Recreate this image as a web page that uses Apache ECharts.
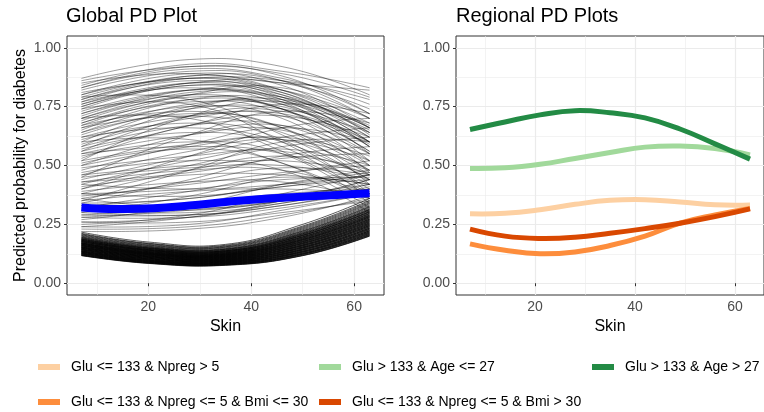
<!DOCTYPE html>
<html>
<head>
<meta charset="utf-8">
<script src="https://cdn.jsdelivr.net/npm/echarts@6/dist/echarts.min.js"></script>
<style>
  html, body { margin: 0; padding: 0; background: #fff; }
  #chart { width: 764px; height: 412px; }
</style>
</head>
<body>
<div id="chart"></div>
<script>
let upperSkin = [7, 28, 46, 63]
let lowerSkin = [7, 20, 35, 50, 63]

// individual conditional expectation curves, upper spread
let iceUpper = [
  [0.87, 0.95, 0.92, 0.80], [0.84, 0.93, 0.90, 0.83], [0.83, 0.92, 0.88, 0.72], [0.82, 0.90, 0.86, 0.70],
  [0.80, 0.89, 0.84, 0.66], [0.79, 0.88, 0.85, 0.82], [0.78, 0.86, 0.80, 0.62], [0.77, 0.87, 0.82, 0.68],
  [0.76, 0.85, 0.79, 0.60], [0.75, 0.85, 0.82, 0.70], [0.74, 0.84, 0.78, 0.58], [0.73, 0.82, 0.77, 0.55],
  [0.72, 0.82, 0.79, 0.65], [0.71, 0.82, 0.81, 0.63], [0.70, 0.79, 0.74, 0.52], [0.69, 0.80, 0.78, 0.60],
  [0.68, 0.77, 0.72, 0.50], [0.67, 0.78, 0.74, 0.56], [0.66, 0.75, 0.70, 0.47], [0.65, 0.78, 0.77, 0.62],
  [0.64, 0.72, 0.66, 0.42], [0.63, 0.74, 0.74, 0.64], [0.62, 0.71, 0.71, 0.55], [0.61, 0.68, 0.61, 0.38],
  [0.60, 0.75, 0.76, 0.58], [0.58, 0.67, 0.67, 0.52], [0.57, 0.64, 0.58, 0.36], [0.56, 0.71, 0.73, 0.60],
  [0.55, 0.63, 0.65, 0.50], [0.54, 0.60, 0.55, 0.34], [0.53, 0.67, 0.71, 0.62], [0.52, 0.59, 0.61, 0.48],
  [0.51, 0.57, 0.51, 0.32], [0.50, 0.63, 0.67, 0.55], [0.49, 0.54, 0.56, 0.46], [0.48, 0.59, 0.66, 0.60],
  [0.47, 0.52, 0.48, 0.30], [0.46, 0.56, 0.61, 0.52], [0.45, 0.49, 0.50, 0.44], [0.44, 0.54, 0.62, 0.66],
  [0.43, 0.48, 0.48, 0.38], [0.42, 0.52, 0.57, 0.50], [0.41, 0.46, 0.46, 0.42], [0.40, 0.50, 0.58, 0.62],
  [0.39, 0.43, 0.43, 0.36], [0.38, 0.48, 0.54, 0.48], [0.37, 0.42, 0.47, 0.50], [0.36, 0.43, 0.49, 0.46],
  [0.35, 0.39, 0.40, 0.38], [0.34, 0.44, 0.54, 0.58], [0.33, 0.36, 0.41, 0.44], [0.32, 0.39, 0.45, 0.42],
  [0.31, 0.34, 0.38, 0.40], [0.30, 0.37, 0.46, 0.52], [0.29, 0.32, 0.37, 0.42], [0.28, 0.31, 0.35, 0.40],
  [0.27, 0.33, 0.42, 0.48], [0.26, 0.28, 0.34, 0.40], [0.25, 0.29, 0.38, 0.46], [0.24, 0.25, 0.31, 0.38],
  [0.79, 0.78, 0.63, 0.44], [0.74, 0.76, 0.60, 0.40], [0.70, 0.70, 0.56, 0.38], [0.66, 0.71, 0.64, 0.46],
  [0.60, 0.61, 0.51, 0.36], [0.58, 0.74, 0.78, 0.66], [0.52, 0.71, 0.77, 0.64], [0.45, 0.63, 0.73, 0.68],
  [0.81, 0.87, 0.86, 0.78], [0.76, 0.85, 0.85, 0.74], [0.85, 0.89, 0.82, 0.66], [0.68, 0.80, 0.83, 0.70],
  [0.56, 0.67, 0.76, 0.72], [0.40, 0.54, 0.66, 0.70], [0.35, 0.48, 0.60, 0.60], [0.23, 0.24, 0.29, 0.36],
  [0.22, 0.23, 0.28, 0.37], [0.24, 0.28, 0.35, 0.44], [0.28, 0.28, 0.32, 0.38], [0.30, 0.29, 0.33, 0.40],
  [0.33, 0.31, 0.35, 0.42], [0.36, 0.32, 0.35, 0.44], [0.38, 0.37, 0.41, 0.46], [0.42, 0.40, 0.42, 0.46],
  [0.26, 0.26, 0.30, 0.35], [0.86, 0.92, 0.89, 0.79], [0.83, 0.91, 0.87, 0.76], [0.80, 0.87, 0.81, 0.64],
  [0.78, 0.88, 0.86, 0.72], [0.77, 0.83, 0.76, 0.58], [0.75, 0.84, 0.80, 0.66], [0.72, 0.80, 0.74, 0.56],
  [0.70, 0.81, 0.79, 0.67], [0.67, 0.73, 0.66, 0.48], [0.64, 0.76, 0.75, 0.60], [0.62, 0.66, 0.60, 0.44],
  [0.59, 0.70, 0.72, 0.59], [0.55, 0.58, 0.55, 0.42], [0.50, 0.58, 0.62, 0.54], [0.46, 0.50, 0.52, 0.47],
  [0.43, 0.47, 0.53, 0.55], [0.38, 0.40, 0.44, 0.45], [0.34, 0.36, 0.42, 0.47], [0.31, 0.30, 0.34, 0.41],
  [0.29, 0.29, 0.33, 0.39]
]

// ICE curves of the dense low band
let iceLower = [
  [0.117, 0.084, 0.076, 0.117, 0.200], [0.119, 0.086, 0.078, 0.119, 0.203], [0.120, 0.087, 0.079, 0.122, 0.205],
  [0.122, 0.089, 0.081, 0.124, 0.208], [0.124, 0.090, 0.082, 0.126, 0.211], [0.126, 0.092, 0.084, 0.128, 0.214],
  [0.127, 0.093, 0.085, 0.131, 0.216], [0.129, 0.095, 0.087, 0.133, 0.219], [0.131, 0.096, 0.088, 0.135, 0.222],
  [0.132, 0.098, 0.090, 0.137, 0.224], [0.134, 0.099, 0.091, 0.140, 0.227], [0.136, 0.101, 0.093, 0.142, 0.230],
  [0.137, 0.103, 0.094, 0.144, 0.233], [0.139, 0.104, 0.096, 0.146, 0.235], [0.141, 0.106, 0.097, 0.149, 0.238],
  [0.143, 0.107, 0.099, 0.151, 0.241], [0.144, 0.109, 0.100, 0.153, 0.244], [0.146, 0.110, 0.102, 0.155, 0.246],
  [0.148, 0.112, 0.103, 0.158, 0.249], [0.149, 0.113, 0.105, 0.160, 0.252], [0.151, 0.115, 0.106, 0.162, 0.254],
  [0.153, 0.116, 0.108, 0.164, 0.257], [0.154, 0.118, 0.109, 0.167, 0.260], [0.156, 0.120, 0.111, 0.169, 0.263],
  [0.158, 0.121, 0.112, 0.171, 0.265], [0.160, 0.123, 0.114, 0.174, 0.268], [0.161, 0.124, 0.115, 0.176, 0.271],
  [0.163, 0.126, 0.117, 0.178, 0.273], [0.165, 0.127, 0.118, 0.180, 0.276], [0.166, 0.129, 0.120, 0.183, 0.279],
  [0.168, 0.130, 0.121, 0.185, 0.282], [0.170, 0.132, 0.123, 0.187, 0.284], [0.171, 0.134, 0.124, 0.189, 0.287],
  [0.173, 0.135, 0.126, 0.192, 0.290], [0.175, 0.137, 0.127, 0.194, 0.292], [0.177, 0.138, 0.129, 0.196, 0.295],
  [0.178, 0.140, 0.130, 0.198, 0.298], [0.180, 0.141, 0.132, 0.201, 0.301], [0.182, 0.143, 0.133, 0.203, 0.303],
  [0.183, 0.144, 0.135, 0.205, 0.306], [0.185, 0.146, 0.137, 0.207, 0.309], [0.187, 0.148, 0.138, 0.210, 0.312],
  [0.189, 0.150, 0.140, 0.213, 0.315], [0.191, 0.151, 0.142, 0.215, 0.318], [0.193, 0.153, 0.144, 0.218, 0.322],
  [0.195, 0.155, 0.145, 0.221, 0.325], [0.197, 0.157, 0.147, 0.223, 0.328], [0.200, 0.160, 0.150, 0.227, 0.333],
  [0.203, 0.162, 0.153, 0.231, 0.338], [0.206, 0.165, 0.155, 0.235, 0.342], [0.209, 0.168, 0.158, 0.239, 0.347],
  [0.212, 0.170, 0.161, 0.243, 0.352], [0.217, 0.175, 0.165, 0.250, 0.360],
  [0.118, 0.085, 0.077, 0.118, 0.201], [0.121, 0.088, 0.080, 0.123, 0.207], [0.125, 0.091, 0.083, 0.127, 0.212],
  [0.128, 0.094, 0.086, 0.132, 0.218], [0.132, 0.097, 0.089, 0.136, 0.223], [0.135, 0.100, 0.092, 0.141, 0.229],
  [0.138, 0.103, 0.095, 0.145, 0.234], [0.142, 0.106, 0.098, 0.150, 0.240], [0.145, 0.110, 0.101, 0.154, 0.245],
  [0.149, 0.113, 0.104, 0.159, 0.250], [0.152, 0.116, 0.107, 0.163, 0.256], [0.155, 0.119, 0.110, 0.168, 0.261],
  [0.159, 0.122, 0.113, 0.172, 0.267], [0.162, 0.125, 0.116, 0.177, 0.272], [0.166, 0.128, 0.119, 0.182, 0.278],
  [0.169, 0.131, 0.122, 0.186, 0.283], [0.172, 0.134, 0.125, 0.191, 0.288], [0.177, 0.139, 0.129, 0.197, 0.296],
  [0.182, 0.143, 0.134, 0.203, 0.304], [0.187, 0.148, 0.138, 0.210, 0.312]
]

// partial dependence curves
let pdSkin = [7, 14, 21, 28, 35, 42, 49, 56, 63]
let pdGlobal = [0.322, 0.315, 0.318, 0.330, 0.345, 0.358, 0.366, 0.374, 0.382]

let regionNames = [
  'Glu <= 133 & Npreg > 5',
  'Glu > 133 & Age <= 27',
  'Glu > 133 & Age > 27',
  'Glu <= 133 & Npreg <= 5 & Bmi <= 30',
  'Glu <= 133 & Npreg <= 5 & Bmi > 30'
]
let regionColors = ['#FDD0A2', '#A1D99B', '#238B45', '#FD8D3C', '#D94801']
let regionValues = [
  [0.295, 0.297, 0.312, 0.335, 0.352, 0.355, 0.345, 0.333, 0.332],
  [0.487, 0.490, 0.505, 0.530, 0.555, 0.578, 0.583, 0.572, 0.545],
  [0.653, 0.685, 0.715, 0.733, 0.724, 0.702, 0.655, 0.592, 0.527],
  [0.167, 0.140, 0.125, 0.133, 0.160, 0.200, 0.255, 0.290, 0.318],
  [0.230, 0.200, 0.190, 0.195, 0.212, 0.232, 0.255, 0.283, 0.316]
]

let yTicks = [0, 0.25, 0.5, 0.75, 1]
let yMinor = [0.125, 0.375, 0.625, 0.875]
let xTicks = [20, 40, 60]
let xMinor = [10, 30, 50]

let labelStyle = {color: '#4D4D4D', fontSize: 14, fontFamily: 'Liberation Sans'}
let gridLine = {color: '#EBEBEB', width: 1.2}

function majorX(gridIndex, withName) {
  return {
    type: 'value', gridIndex: gridIndex, min: 4.2, max: 65.8,
    name: withName ? 'Skin' : '', nameLocation: 'middle', nameGap: 21,
    nameTextStyle: {color: '#000', fontSize: 16, fontFamily: 'Liberation Sans'},
    axisLine: {show: false},
    axisTick: {show: true, length: 3, customValues: xTicks, lineStyle: {color: '#333'}},
    axisLabel: Object.assign({customValues: xTicks, margin: 5}, labelStyle),
    splitLine: {show: true, lineStyle: gridLine}
  }
}
function minorX(gridIndex) {
  return {
    type: 'value', gridIndex: gridIndex, min: 4.2, max: 65.8, position: 'bottom',
    axisLine: {show: false}, axisLabel: {show: false},
    axisTick: {show: false, customValues: xMinor},
    splitLine: {show: true, lineStyle: {color: '#EBEBEB', width: 0.6}}
  }
}
function majorY(gridIndex, withName) {
  return {
    type: 'value', gridIndex: gridIndex, min: -0.05, max: 1.05,
    name: withName ? 'Predicted probability for diabetes' : '', nameLocation: 'middle', nameGap: 38,
    nameTextStyle: {color: '#000', fontSize: 16, fontFamily: 'Liberation Sans'},
    axisLine: {show: false},
    axisTick: {show: true, length: 3, customValues: yTicks, lineStyle: {color: '#333'}},
    axisLabel: Object.assign({customValues: yTicks, margin: 6, formatter: v => v.toFixed(2)}, labelStyle),
    splitLine: {show: true, lineStyle: gridLine}
  }
}
function minorY(gridIndex) {
  return {
    type: 'value', gridIndex: gridIndex, min: -0.05, max: 1.05, position: 'left',
    axisLine: {show: false}, axisLabel: {show: false},
    axisTick: {show: false, customValues: yMinor},
    splitLine: {show: true, lineStyle: {color: '#EBEBEB', width: 0.6}}
  }
}

// draws each row of `curves` as one smooth polyline through the axis scales
function curveSeries(name, axisIndex, skin, curves, color, width, z) {
  return {
    name: name, type: 'custom', xAxisIndex: axisIndex, yAxisIndex: axisIndex, z: z,
    silent: true, itemStyle: {color: color},
    data: curves.map((c, i) => [skin[0], c[0], i]),
    renderItem: function (params, api) {
      let c = curves[params.dataIndex]
      return {
        type: 'polyline',
        shape: {points: skin.map((x, j) => api.coord([x, c[j]])), smooth: 0.45},
        style: {stroke: color, lineWidth: width, fill: null}
      }
    }
  }
}

let series = [
  curveSeries('ice-upper', 0, upperSkin, iceUpper, 'rgba(0,0,0,0.38)', 1, 2),
  curveSeries('ice-lower', 0, lowerSkin, iceLower, 'rgba(0,0,0,0.65)', 1, 2),
  curveSeries('pd', 0, pdSkin, [pdGlobal], '#0000FF', 8, 5)
]
regionNames.forEach((name, k) => {
  series.push(curveSeries(name, 2, pdSkin, [regionValues[k]], regionColors[k], 5, 3))
})

// legend slots in reading order (two rows)
let legendPos = [[38, 360], [319, 360], [592, 360], [38, 395], [319, 395]]

let myChart = echarts.init(document.getElementById('chart'), null, {renderer: 'canvas'})

myChart.setOption({
  animation: false,
  backgroundColor: '#fff',
  title: [
    {text: 'Global PD Plot', left: 66, top: 6, padding: 0,
      textStyle: {fontSize: 20, fontWeight: 'normal', color: '#000', fontFamily: 'Liberation Sans'}},
    {text: 'Regional PD Plots', left: 456, top: 6, padding: 0,
      textStyle: {fontSize: 20, fontWeight: 'normal', color: '#000', fontFamily: 'Liberation Sans'}}
  ],
  grid: [
    {left: 67, right: 380, top: 36, bottom: 117, show: true, borderColor: '#333', borderWidth: 1, backgroundColor: 'transparent'},
    {left: 456, right: -9, top: 36, bottom: 117, show: true, borderColor: '#333', borderWidth: 1, backgroundColor: 'transparent'}
  ],
  xAxis: [majorX(0, true), minorX(0), majorX(1, true), minorX(1)],
  yAxis: [majorY(0, true), minorY(0), majorY(1, false), minorY(1)],
  legend: regionNames.map((name, k) => ({
    data: [name], left: legendPos[k][0], top: legendPos[k][1], padding: 0,
    icon: 'rect', itemWidth: 22, itemHeight: 6, selectedMode: false,
    itemStyle: {color: regionColors[k]},
    textStyle: {fontSize: 14, color: '#000', fontFamily: 'Liberation Sans', padding: [0, 0, 0, 6]}
  })),
  series: series
})
</script>
</body>
</html>
